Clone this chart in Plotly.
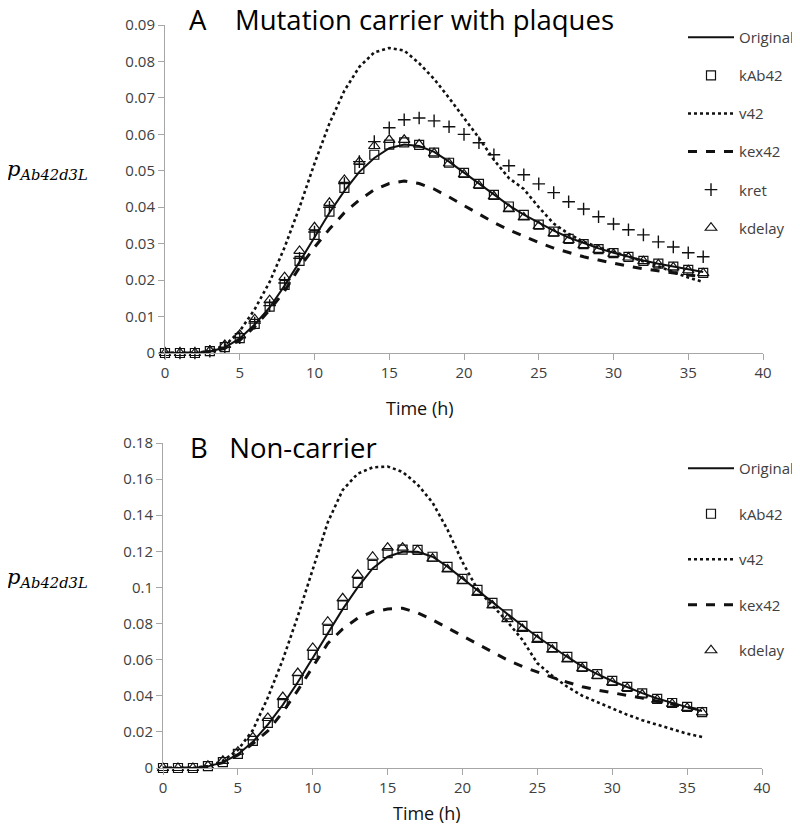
import plotly.graph_objects as go

# time points (h)
hours = list(range(37))

# Panel A - mutation carrier with plaques
a_original = [0, 0, 0, 0.0004, 0.0015, 0.004, 0.0078, 0.0125, 0.0185, 0.025, 0.0318, 0.0385, 0.0445,
              0.0497, 0.0535, 0.0562, 0.0572, 0.0568, 0.0552, 0.0525, 0.0495, 0.0465, 0.0435, 0.0405,
              0.038, 0.0357, 0.0336, 0.0317, 0.0301, 0.0287, 0.0275, 0.0264, 0.0254, 0.0245, 0.0237,
              0.0229, 0.0222]
a_kab42 = [0, 0, 0, 0.0005, 0.0016, 0.0041, 0.008, 0.0127, 0.0187, 0.0253, 0.0324, 0.0388, 0.0453,
           0.0505, 0.0544, 0.0572, 0.0578, 0.0571, 0.055, 0.0522, 0.0494, 0.0464, 0.0434, 0.0402,
           0.0379, 0.0352, 0.0333, 0.0313, 0.0299, 0.0285, 0.0274, 0.0264, 0.0253, 0.0245, 0.0237,
           0.0228, 0.022]
a_v42 = [0, 0, 0, 0.0005, 0.002, 0.006, 0.012, 0.0195, 0.029, 0.04, 0.052, 0.063, 0.072, 0.0785,
         0.0825, 0.0837, 0.083, 0.0795, 0.0752, 0.07, 0.0645, 0.059, 0.053, 0.048, 0.045, 0.04,
         0.0355, 0.0327, 0.0305, 0.029, 0.0278, 0.0265, 0.0252, 0.0238, 0.0222, 0.0207, 0.0195]
a_kex42 = [0, 0, 0, 0.0003, 0.0013, 0.0035, 0.0072, 0.0118, 0.017, 0.0235, 0.029, 0.034, 0.0385,
           0.042, 0.0448, 0.0465, 0.0472, 0.0465, 0.045, 0.0428, 0.0405, 0.038, 0.0358, 0.0338,
           0.032, 0.0303, 0.0288, 0.0275, 0.0264, 0.0255, 0.0246, 0.0238, 0.0231, 0.0225, 0.0219,
           0.0214, 0.021]
a_kret = [0, 0, 0, 0.0005, 0.0016, 0.0042, 0.0082, 0.013, 0.0192, 0.026, 0.0332, 0.04, 0.0465,
          0.0525, 0.058, 0.0618, 0.064, 0.0645, 0.0637, 0.0621, 0.06, 0.0577, 0.0544, 0.0514,
          0.0489, 0.0464, 0.044, 0.0415, 0.0395, 0.0374, 0.0354, 0.0338, 0.0324, 0.0305, 0.0291,
          0.0275, 0.0264]
a_kdelay = [0, 0, 0, 0.0006, 0.0022, 0.005, 0.0093, 0.0145, 0.0208, 0.028, 0.0345, 0.0412, 0.0475,
            0.0525, 0.0568, 0.0585, 0.0585, 0.0572, 0.0548, 0.052, 0.049, 0.046, 0.043, 0.0395,
            0.0372, 0.0348, 0.0328, 0.031, 0.0296, 0.0283, 0.0272, 0.0262, 0.0252, 0.0243, 0.0235,
            0.0227, 0.0219]

# Panel B - non-carrier
b_original = [0, 0, 0, 0.0009, 0.0031, 0.0075, 0.0145, 0.024, 0.035, 0.0475, 0.061, 0.0745, 0.088,
              0.1, 0.1105, 0.117, 0.1198, 0.1198, 0.117, 0.1115, 0.105, 0.0985, 0.0915, 0.085,
              0.0788, 0.0727, 0.067, 0.0615, 0.0563, 0.052, 0.0482, 0.0448, 0.0415, 0.0385, 0.036,
              0.0337, 0.0315]
b_kab42 = [0, 0, 0, 0.001, 0.0033, 0.0078, 0.015, 0.025, 0.036, 0.0488, 0.0626, 0.0765, 0.0903,
           0.1025, 0.1125, 0.119, 0.121, 0.1208, 0.117, 0.1114, 0.1047, 0.0986, 0.0914, 0.0851,
           0.0787, 0.0726, 0.067, 0.0615, 0.056, 0.052, 0.0482, 0.0449, 0.0413, 0.0383, 0.036,
           0.0338, 0.031]
b_v42 = [0, 0, 0, 0.001, 0.004, 0.01, 0.021, 0.039, 0.06, 0.084, 0.11, 0.136, 0.154, 0.163,
         0.1665, 0.167, 0.164, 0.157, 0.147, 0.132, 0.114, 0.099, 0.09, 0.081, 0.071, 0.058, 0.051,
         0.045, 0.04, 0.0365, 0.033, 0.0295, 0.0265, 0.024, 0.0215, 0.019, 0.0172]
b_kex42 = [0, 0, 0, 0.0008, 0.003, 0.0072, 0.0135, 0.0205, 0.031, 0.043, 0.056, 0.069, 0.077, 0.083,
           0.0865, 0.088, 0.0885, 0.086, 0.082, 0.0775, 0.073, 0.0685, 0.064, 0.0598, 0.0562, 0.053,
           0.0502, 0.0475, 0.045, 0.0432, 0.0418, 0.0403, 0.0387, 0.037, 0.0352, 0.0335, 0.032]
b_kdelay = [0, 0, 0, 0.0012, 0.004, 0.009, 0.017, 0.0277, 0.0393, 0.0526, 0.0665, 0.081, 0.094,
            0.107, 0.117, 0.122, 0.122, 0.1205, 0.116, 0.11, 0.1035, 0.097, 0.09, 0.0825, 0.077,
            0.071, 0.0655, 0.0602, 0.0552, 0.051, 0.0474, 0.0442, 0.0407, 0.0378, 0.0355, 0.0333,
            0.0308]

ink = '#111111'
axis_grey = '#a6a6a6'
label_grey = '#404040'
font_main = 'Open Sans'

# the page body has an 8px margin: positions below are in window pixels, shifted back here
W, H = 800, 825
OFF = 8


def px(x):
    return (x - OFF) / W


def py(y):
    return 1 - (y - OFF) / H


fig = go.Figure()


def add_panel(xa, ya, leg, series):
    for name, ys, kind in series:
        if kind in ('solid', 'dot', 'dash'):
            width = {'solid': 2, 'dot': 2.6, 'dash': 3}[kind]
            fig.add_trace(go.Scatter(x=hours, y=ys, name=name, mode='lines',
                                     line=dict(color=ink, width=width, dash=kind),
                                     xaxis=xa, yaxis=ya, legend=leg, legendgroup=leg + name,
                                     cliponaxis=False))
        else:
            sym, size, lw = kind
            fig.add_trace(go.Scatter(x=hours, y=ys, name=name, mode='markers',
                                     marker=dict(symbol=sym, size=size, color=ink,
                                                 line=dict(color=ink, width=lw)),
                                     xaxis=xa, yaxis=ya, legend=leg, legendgroup=leg + name,
                                     cliponaxis=False))


square = ('square-open', 9, 1.2)
plus = ('cross-thin-open', 9, 1.4)
tri = ('triangle-up-open', 10, 1.2)

add_panel('x', 'y', 'legend', [
    ('Original', a_original, 'solid'),
    ('kAb42', a_kab42, square),
    ('v42', a_v42, 'dot'),
    ('kex42', a_kex42, 'dash'),
    ('kret', a_kret, plus),
    ('kdelay', a_kdelay, tri),
])
add_panel('x2', 'y2', 'legend2', [
    ('Original', b_original, 'solid'),
    ('kAb42', b_kab42, square),
    ('v42', b_v42, 'dot'),
    ('kex42', b_kex42, 'dash'),
    ('kdelay', b_kdelay, tri),
])

axis_common = dict(showline=True, linecolor=axis_grey, linewidth=1, ticks='outside',
                   tickcolor=axis_grey, ticklen=6, showgrid=False, zeroline=False,
                   automargin=False,
                   tickfont=dict(family=font_main, size=15, color=label_grey))

fig.update_layout(
    width=W, height=H,
    margin=dict(l=0, r=0, t=0, b=0, autoexpand=False),
    plot_bgcolor='white', paper_bgcolor='white',
    xaxis=dict(domain=[px(165), px(763)], range=[0, 40], dtick=5, anchor='y', **axis_common),
    yaxis=dict(domain=[py(353), py(25)], range=[0, 0.09], dtick=0.01, anchor='x', **axis_common),
    xaxis2=dict(domain=[px(163), px(762)], range=[0, 40], dtick=5, anchor='y2', **axis_common),
    yaxis2=dict(domain=[py(768), py(443)], range=[0, 0.18], dtick=0.02, anchor='x2',
                **axis_common),
    legend=dict(x=px(683), y=py(21), xanchor='left', yanchor='top', bgcolor='rgba(0,0,0,0)',
                tracegroupgap=15.6, itemwidth=46,
                font=dict(family=font_main, size=15, color=label_grey)),
    legend2=dict(x=px(683), y=py(452), xanchor='left', yanchor='top',
                 bgcolor='rgba(0,0,0,0)', tracegroupgap=23, itemwidth=46,
                 font=dict(family=font_main, size=15, color=label_grey)),
    showlegend=True,
)

ylab = '<i>p</i><sub><i>Ab42d3L</i></sub>'
notes = [
    dict(text='A    Mutation carrier with plaques', x=187, y=20, size=27.5, color='black',
         family=font_main, anchor='left'),
    dict(text='B   Non-carrier', x=188, y=447, size=27.5, color='black', family=font_main,
         anchor='left'),
    dict(text=ylab, x=90, y=170, size=21, color='black', family='DejaVu Serif', anchor='right'),
    dict(text=ylab, x=90, y=578, size=21, color='black', family='DejaVu Serif', anchor='right'),
    dict(text='Time (h)', x=384, y=408, size=18, color=ink, family=font_main, anchor='left'),
    dict(text='Time (h)', x=391, y=813, size=18, color=ink, family=font_main, anchor='left'),
]
for n in notes:
    fig.add_annotation(text=n['text'], x=px(n['x']), y=py(n['y']), xref='paper', yref='paper',
                       xanchor=n['anchor'], yanchor='middle', showarrow=False,
                       font=dict(family=n['family'], size=n['size'], color=n['color']))

fig.write_html("out.html")
